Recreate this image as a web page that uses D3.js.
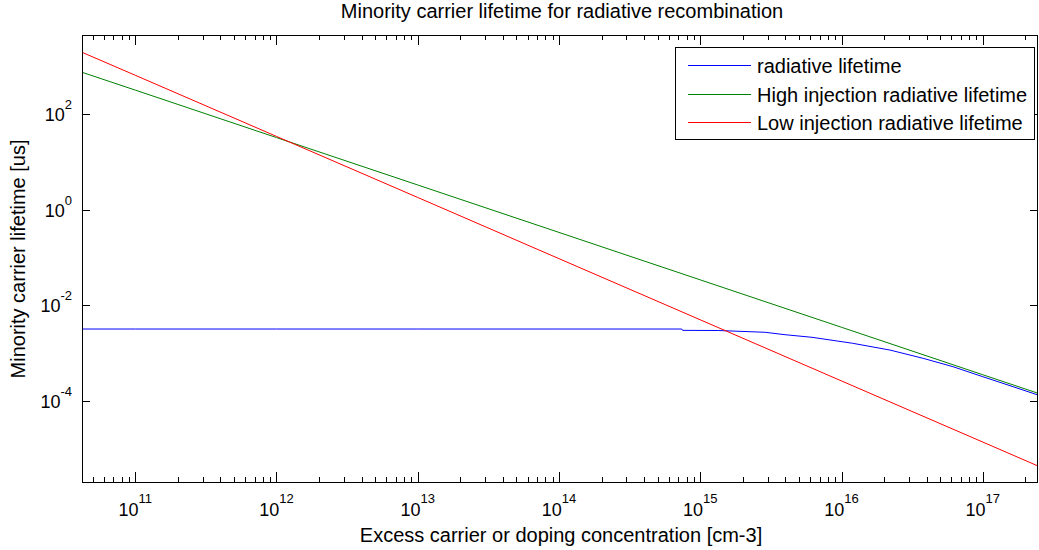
<!DOCTYPE html>
<html>
<head>
<meta charset="utf-8">
<script src="https://cdn.jsdelivr.net/npm/d3@7"></script>
<style>
  html, body { margin: 0; padding: 0; background: #fff; }
  svg { display: block; }
  text { font-family: "Liberation Sans", Arial, Helvetica, sans-serif; fill: #000; }
</style>
</head>
<body>
<svg id="chart" width="1039" height="550"></svg>
<script>
// ---------------- data ----------------
const title = "Minority carrier lifetime for radiative recombination";
const xLabel = "Excess carrier or doping concentration [cm-3]";
const yLabel = "Minority carrier lifetime [us]";
const seriesNames = ["radiative lifetime", "High injection radiative lifetime", "Low injection radiative lifetime"];
const seriesColors = ["#0000ff", "#008000", "#ff0000"];

// axis limits
const xLimits = [4.2e10, 2.46e17];
const yLimits = [2.03e-6, 4560];

// tick values / labels
const xTickExponents = [11, 12, 13, 14, 15, 16, 17];
const yTickExponents = [2, 0, -2, -4];

// concentration samples for straight lines (cm-3)
const lineN = [4.2e10, 1e11, 1e12, 1e13, 1e14, 1e15, 1e16, 1e17, 2.46e17];
// high injection radiative lifetime (us)
const highTau = [757, 321, 32.6, 3.32, 0.338, 0.0344, 3.5e-3, 3.56e-4, 1.46e-4];
// low injection radiative lifetime (us)
const lowTau = [1983, 656, 34.5, 1.82, 0.0955, 5.02e-3, 2.64e-4, 1.39e-5, 4.39e-6];

// radiative lifetime (us)
const radN = [4.2e10, 1e11, 1e12, 1e13, 1e14, 7.4e14, 7.5e14, 1.34e15, 2.88e15, 3.98e15, 6.18e15,
              1.2e16, 2.2e16, 3.78e16, 6.15e16, 1.0e17, 1.64e17, 2.46e17];
const radTau = [3.22e-3, 3.22e-3, 3.22e-3, 3.22e-3, 3.22e-3, 3.22e-3, 3.02e-3, 3.0e-3, 2.75e-3, 2.45e-3, 2.16e-3,
                1.62e-3, 1.17e-3, 7.85e-4, 5.25e-4, 3.24e-4, 2.0e-4, 1.34e-4];

// ---------------- drawing ----------------
const svg = d3.select("#chart");
const L = 82, R = 1038, T = 35, B = 482;

const x = d3.scaleLog().domain(xLimits).range([L, R]);
const y = d3.scaleLog().domain(yLimits).range([B, T]);

const series = [
  { name: seriesNames[0], color: seriesColors[0], xs: radN, ys: radTau },
  { name: seriesNames[1], color: seriesColors[1], xs: lineN, ys: highTau },
  { name: seriesNames[2], color: seriesColors[2], xs: lineN, ys: lowTau }
];

const clip = svg.append("defs").append("clipPath").attr("id", "plotclip");
clip.append("rect").attr("x", L).attr("y", T).attr("width", R - L).attr("height", B - T);

const line = d3.line().x(d => x(d[0])).y(d => y(d[1]));
const plot = svg.append("g").attr("clip-path", "url(#plotclip)");
series.forEach(s => {
  plot.append("path")
    .datum(s.xs.map((v, i) => [v, s.ys[i]]))
    .attr("d", line)
    .attr("fill", "none")
    .attr("stroke", s.color)
    .attr("stroke-width", 1);
});

// ticks
const majorX = xTickExponents.map(e => Math.pow(10, e));
const minorX = [];
for (let e = 10; e <= 17; e++) {
  for (let k = 2; k <= 9; k++) {
    const v = k * Math.pow(10, e);
    if (v >= xLimits[0] && v <= xLimits[1]) minorX.push(v);
  }
}
const majorY = yTickExponents.map(e => Math.pow(10, e));

const tg = svg.append("g").attr("stroke", "#000").attr("stroke-width", 1).attr("shape-rendering", "crispEdges");
const px = v => Math.round(x(v)) + 0.5;
const py = v => Math.round(y(v)) + 0.5;
majorX.forEach(v => {
  tg.append("line").attr("x1", px(v)).attr("x2", px(v)).attr("y1", B).attr("y2", B - 10);
  tg.append("line").attr("x1", px(v)).attr("x2", px(v)).attr("y1", T).attr("y2", T + 10);
});
minorX.forEach(v => {
  tg.append("line").attr("x1", px(v)).attr("x2", px(v)).attr("y1", B).attr("y2", B - 5);
  tg.append("line").attr("x1", px(v)).attr("x2", px(v)).attr("y1", T).attr("y2", T + 5);
});
majorY.forEach(v => {
  tg.append("line").attr("x1", L).attr("x2", L + 8).attr("y1", py(v)).attr("y2", py(v));
  tg.append("line").attr("x1", R).attr("x2", R - 8).attr("y1", py(v)).attr("y2", py(v));
});

// frame
svg.append("rect")
  .attr("x", L + 0.5).attr("y", T + 0.5).attr("width", R - L - 1).attr("height", B - T)
  .attr("fill", "none").attr("stroke", "#000").attr("stroke-width", 1)
  .attr("shape-rendering", "crispEdges");

// x tick labels
xTickExponents.forEach(e => {
  const t = svg.append("text").attr("x", x(Math.pow(10, e))).attr("y", 515.5)
    .attr("text-anchor", "middle").style("font-size", "18px");
  t.append("tspan").text("10");
  t.append("tspan").attr("dy", -13).style("font-size", "13px").text(String(e));
});
// y tick labels
yTickExponents.forEach(e => {
  const t = svg.append("text").attr("x", 72).attr("y", y(Math.pow(10, e)) + 7)
    .attr("text-anchor", "end").style("font-size", "18px");
  t.append("tspan").text("10");
  t.append("tspan").attr("dy", -12).style("font-size", "13px").text(String(e));
});

// titles
svg.append("text").attr("x", 562).attr("y", 18).attr("text-anchor", "middle")
  .style("font-size", "20px").text(title);
svg.append("text").attr("x", 561).attr("y", 542).attr("text-anchor", "middle")
  .style("font-size", "20px").text(xLabel);
svg.append("text").attr("transform", "translate(25,259) rotate(-90)").attr("text-anchor", "middle")
  .style("font-size", "20px").text(yLabel);

// legend
const lg = svg.append("g");
lg.append("rect").attr("x", 675.5).attr("y", 47.5).attr("width", 359).attr("height", 92)
  .attr("fill", "#fff").attr("stroke", "#000").attr("stroke-width", 1).attr("shape-rendering", "crispEdges");
const rowsY = [65, 94, 122];
series.forEach((s, i) => {
  lg.append("line").attr("x1", 688).attr("x2", 751).attr("y1", rowsY[i] + 0.5).attr("y2", rowsY[i] + 0.5)
    .attr("stroke", s.color).attr("stroke-width", 1);
  lg.append("text").attr("x", 757).attr("y", rowsY[i] + 8).style("font-size", "20px").text(s.name);
});
</script>
</body>
</html>
